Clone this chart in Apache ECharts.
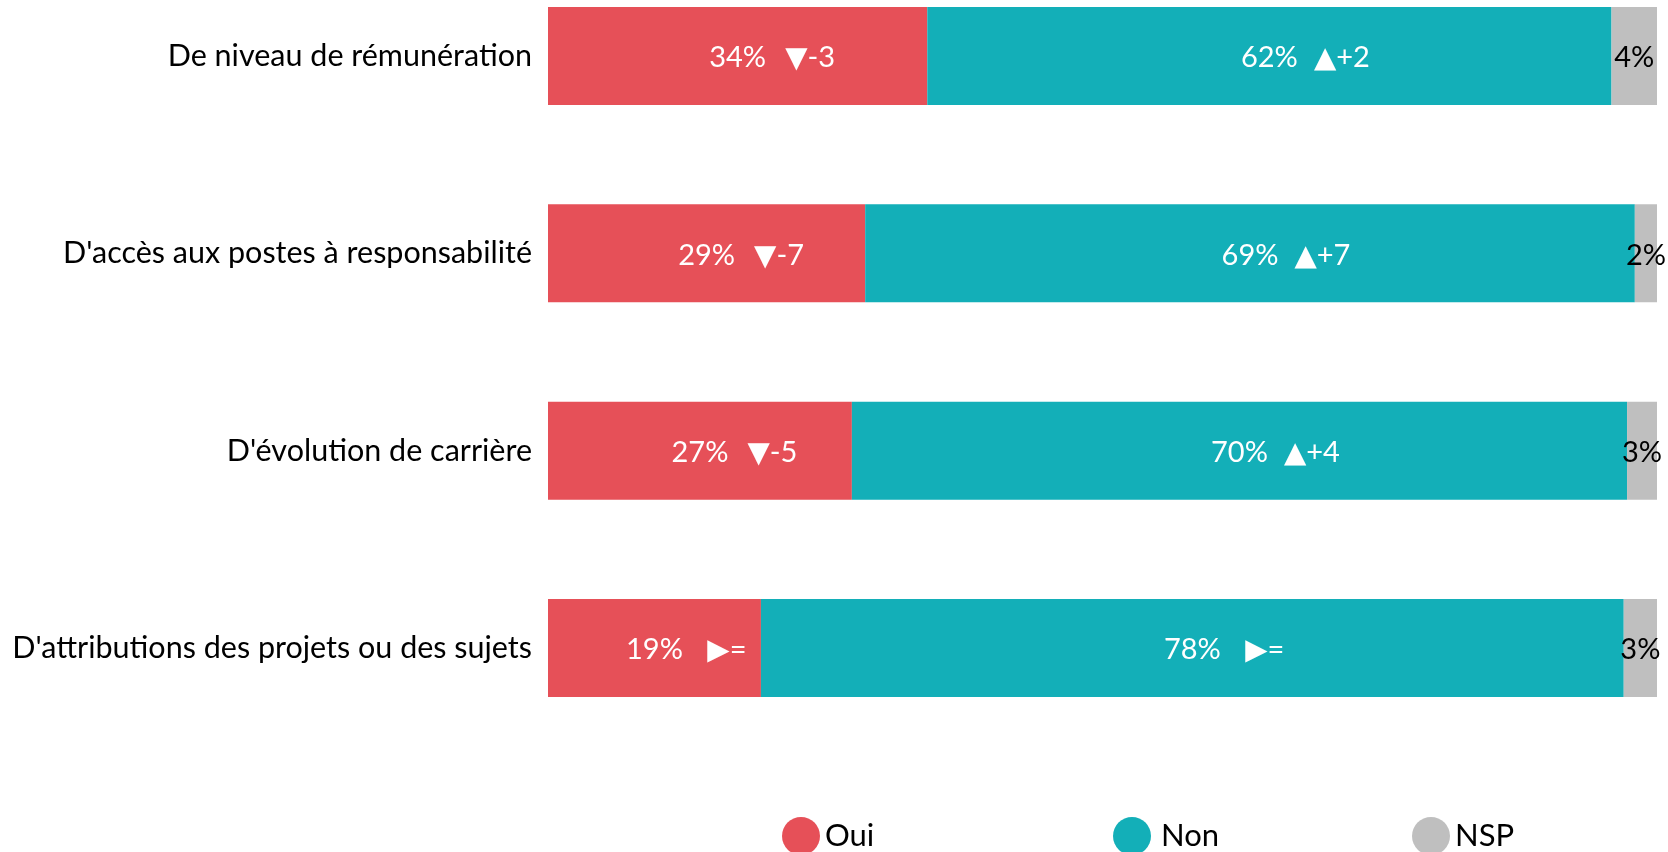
<!DOCTYPE html>
<html>
<head>
<meta charset="utf-8">
<script src="https://cdn.jsdelivr.net/npm/echarts@6/dist/echarts.min.js"></script>
<style>html,body{margin:0;padding:0;background:#fff}#c{width:1668px;height:852px}</style>
</head>
<body>
<div id="c"></div>
<script>
const categories = ["De niveau de rémunération", "D'accès aux postes à responsabilité", "D'évolution de carrière", "D'attributions des projets ou des sujets"];
const oui = [34.2, 28.6, 27.4, 19.2];
const non = [61.7, 69.4, 69.9, 77.8];
const nsp = [4.1, 2.0, 2.7, 3.0];
const ouiDelta = ["▼-3", "▼-7", "▼-5", "▶="];
const nonDelta = ["▲+2", "▲+7", "▲+4", "▶="];

const FONT = 'Lato, "DejaVu Sans", sans-serif';
const FS = 29;
const chart = echarts.init(document.getElementById('c'), null, {renderer: 'canvas'});

function deltaLabel(deltas) {
  return {
    show: true,
    position: 'inside',
    offset: [0, 2],
    formatter: p => `{pad|}{p|${Math.round(p.value)}%}{gap|}{d|${deltas[p.dataIndex]}}`,
    rich: {
      pad: {width: 74},
      p: {fontSize: FS, color: '#fff', fontFamily: FONT},
      gap: {width: 14},
      d: {width: 60, align: 'left', fontSize: FS, color: '#fff', fontFamily: FONT}
    }
  };
}

function legendItem(name, left, padLeft) {
  return {data: [name], left: left, top: 812, icon: 'circle', itemWidth: 38, itemHeight: 38, itemGap: 0,
    textStyle: {fontSize: 31, color: '#000', fontFamily: FONT, padding: [0, 0, 0, padLeft]}};
}

const option = {
  animation: false,
  backgroundColor: '#fff',
  grid: {left: 548, right: 11, top: 56, bottom: 852 - 648, containLabel: false},
  xAxis: {type: 'value', min: 0, max: 100, show: false},
  yAxis: {
    type: 'category', data: categories, inverse: true, boundaryGap: false,
    axisLine: {show: false}, axisTick: {show: false}, splitLine: {show: false},
    axisLabel: {fontSize: 30.5, color: '#000', fontFamily: FONT, margin: 16}
  },
  legend: [
    legendItem('Oui', 777, 0),
    legendItem('Non', 1108, 5),
    legendItem('NSP', 1407, 0)
  ],
  series: [
    {name: 'Oui', type: 'bar', stack: 'a', data: oui, barWidth: 98,
     itemStyle: {color: '#E65058'}, label: deltaLabel(ouiDelta)},
    {name: 'Non', type: 'bar', stack: 'a', data: non, barWidth: 98,
     itemStyle: {color: '#13AFB8'}, label: deltaLabel(nonDelta)},
    {name: 'NSP', type: 'bar', stack: 'a', data: nsp, barWidth: 98,
     itemStyle: {color: '#BFBFBF'},
     label: {show: true, position: 'inside', offset: [0, 2], formatter: p => Math.round(p.value) + '%',
             fontSize: FS, color: '#000', fontFamily: FONT}}
  ]
};
chart.setOption(option);
</script>
</body>
</html>
